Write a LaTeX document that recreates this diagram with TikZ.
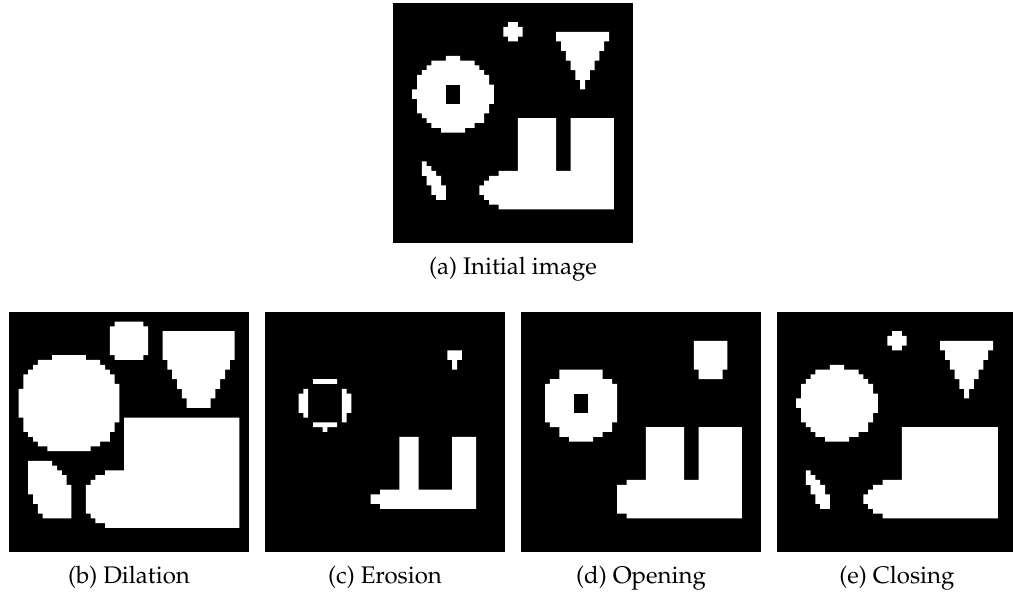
\documentclass[tikz,border=0pt]{standalone}
\usepackage[T1]{fontenc}
\usepackage{mathpazo}
\tikzset{
  imgbg/.style={fill=black},
  fg/.style={fill=white},
  hole/.style={fill=black},
  caption/.style={anchor=base, inner sep=0pt, font=\fontsize{12}{14}\selectfont},
}
% rows r1/r2/c1/c2 on a 50x50 grid
\def\Adot{4/4/24/25,5/6/23/26,7/7/24/25}
\def\Atri{6/7/34/44,8/9/35/43,10/11/36/42,12/13/37/41,14/15/38/40,16/17/39/39}
\def\Acirc{11/11/11/13,12/12/8/16,13/13/7/17,14/14/6/18,15/16/5/19,17/17/5/20,18/19/4/20,20/20/5/20,21/22/5/19,23/23/6/18,24/24/7/18,25/25/8/16,26/26/10/14}
\def\Asliver{33/33/6/6,34/34/6/7,35/35/6/8,36/37/7/9,38/39/8/10,40/40/9/10}
\def\Abase{35/35/22/45,36/36/20/45,37/37/19/45,38/39/18/45,40/40/19/45,41/41/20/45,42/42/22/45}
\edef\Ashapes{\Adot,\Atri,\Acirc,\Asliver,24/34/26/33,24/34/37/45,\Abase}
\edef\Eshapes{\Adot,\Atri,\Acirc,\Asliver,24/34/26/45,\Abase}
\def\Bshapes{2/2/22/27,3/8/21/28,9/9/22/27,
  4/9/32/46,10/11/33/45,12/13/34/44,14/15/35/43,16/17/36/42,18/19/37/41,
  9/9/9/15,10/10/6/18,11/11/5/19,12/12/4/20,13/14/3/21,15/15/3/22,16/21/2/22,22/22/3/22,23/24/3/21,25/25/4/20,26/26/5/20,27/27/6/18,28/28/8/16,
  31/31/4/8,32/32/4/9,33/33/4/10,34/35/4/11,36/37/4/12,38/39/5/12,40/41/6/12,42/42/7/12,
  22/32/24/47,33/33/20/47,34/34/18/47,35/35/17/47,36/41/16/47,42/42/17/47,43/43/18/47,44/44/20/47}
\def\Cshapes{8/9/38/40,10/11/39/39,
  14/14/10/14,16/16/8/8,16/16/16/16,17/20/7/8,17/20/16/17,21/21/8/8,21/22/16/16,23/23/10/14,24/24/12/12,
  26/36/28/31,26/36/39/43,37/37/24/43,38/39/22/43,40/40/24/43}
\def\Dshapes{6/11/36/42,12/13/37/41,
  12/13/8/16,14/14/6/18,15/22/5/19,23/23/6/18,24/24/8/18,25/25/8/16,26/26/10/14,
  24/34/26/33,24/34/37/45,35/35/22/45,36/41/20/45,42/42/22/45}
\begin{document}
\begin{tikzpicture}[x=0.5pt,y=-0.5pt]
\useasboundingbox (0,0) rectangle (1013,598);
\fill[white] (0,0) rectangle (1013,598);
% (a) initial
\begin{scope}[shift={(393,3)},x=2.4pt,y=-2.4pt]
  \fill[imgbg] (0,0) rectangle (50,50);
  \fill[fg] \foreach \a/\b/\c/\d in \Ashapes {(\c,\a) rectangle (\d+1,\b+1)};
  \fill[hole] (11,17) rectangle (14,21);
\end{scope}
% (b) dilation
\begin{scope}[shift={(9,312)},x=2.4pt,y=-2.4pt]
  \fill[imgbg] (0,0) rectangle (50,50);
  \fill[fg] \foreach \a/\b/\c/\d in \Bshapes {(\c,\a) rectangle (\d+1,\b+1)};
\end{scope}
% (c) erosion
\begin{scope}[shift={(265,312)},x=2.4pt,y=-2.4pt]
  \fill[imgbg] (0,0) rectangle (50,50);
  \fill[fg] \foreach \a/\b/\c/\d in \Cshapes {(\c,\a) rectangle (\d+1,\b+1)};
\end{scope}
% (d) opening
\begin{scope}[shift={(521,312)},x=2.4pt,y=-2.4pt]
  \fill[imgbg] (0,0) rectangle (50,50);
  \fill[fg] \foreach \a/\b/\c/\d in \Dshapes {(\c,\a) rectangle (\d+1,\b+1)};
  \fill[hole] (11,17) rectangle (14,21);
\end{scope}
% (e) closing
\begin{scope}[shift={(777,312)},x=2.4pt,y=-2.4pt]
  \fill[imgbg] (0,0) rectangle (50,50);
  \fill[fg] \foreach \a/\b/\c/\d in \Eshapes {(\c,\a) rectangle (\d+1,\b+1)};
\end{scope}
\node[caption] (capA) at (513,275) {(a) Initial image};
\node[caption] (capB) at (129,584) {(b) Dilation};
\node[caption] (capC) at (385,584) {(c) Erosion};
\node[caption] (capD) at (641,584) {(d) Opening};
\node[caption] (capE) at (897,584) {(e) Closing};
\end{tikzpicture}
\end{document}
